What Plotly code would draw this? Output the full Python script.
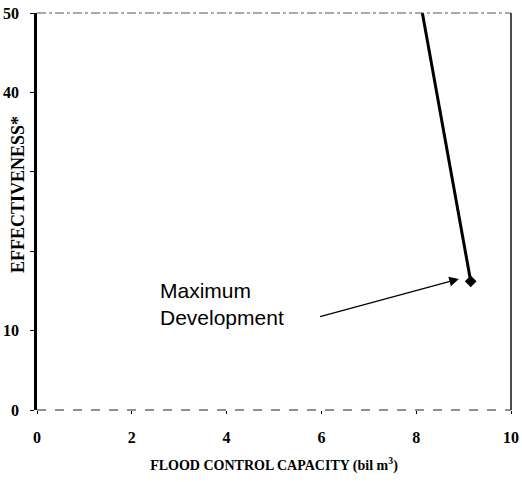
import plotly.graph_objects as go

# Data
capacity = [8.1, 9.15]          # bil m^3
effectiveness = [51.0, 16.2]
max_dev_x = [9.15]
max_dev_y = [16.2]
x_ticks = [0, 2, 4, 6, 8, 10]
x_ticktext = ["<b>0</b>", "<b>2</b>", "<b>4</b>", "<b>6</b>", "<b>8</b>", "<b>10</b>"]
y_ticks = [0, 10, 40, 50]
y_ticktext = ["<b>0</b>", "<b>10</b>", "<b>40</b>", "<b>50</b>"]
y_unlabeled_ticks = [20, 30]

serif = "Liberation Serif"

fig = go.Figure()
fig.add_trace(go.Scatter(x=capacity, y=effectiveness, mode="lines",
                         line=dict(color="black", width=3), showlegend=False))
fig.add_trace(go.Scatter(x=max_dev_x, y=max_dev_y, mode="markers",
                         marker=dict(symbol="diamond", size=9, color="black"),
                         showlegend=False))

# frame lines
fig.add_shape(type="line", xref="paper", yref="paper", x0=0, x1=1, y0=1, y1=1,
              line=dict(color="#555", width=1, dash="dashdot"))
fig.add_shape(type="line", xref="paper", yref="paper", x0=0, x1=1, y0=0, y1=0,
              line=dict(color="#222", width=1, dash="dash"))
fig.add_shape(type="line", xref="paper", yref="paper", x0=1, x1=1, y0=0, y1=1,
              line=dict(color="#111", width=1.5))

# annotation arrow
fig.add_annotation(x=8.9, y=16.5, ax=5.94, ay=11.7, xref="x", yref="y",
                   axref="x", ayref="y", text="", showarrow=True,
                   arrowhead=2, arrowsize=1.6, arrowwidth=1.2, arrowcolor="black")
fig.add_annotation(x=2.55, y=13.3, xref="x", yref="y", text="Maximum<br>Development",
                   showarrow=False, xanchor="left", yanchor="middle", align="left",
                   font=dict(family="Liberation Sans", size=21, color="black"))

plot_w = 522 - 37 - 11
plot_h = 482 - 13 - 72

# y title as annotation (pixel-positioned)
fig.add_annotation(x=(18 - 37) / plot_w, y=(482 - 72 - 195) / plot_h,
                   xref="paper", yref="paper",
                   text="<b>EFFECTIVENESS*</b>", textangle=-90, showarrow=False,
                   font=dict(family=serif, size=18, color="black"),
                   xanchor="center", yanchor="middle")

fig.update_layout(
    width=522, height=482,
    margin=dict(l=37, r=11, t=13, b=72, autoexpand=False),
    paper_bgcolor="white", plot_bgcolor="white",
    xaxis=dict(range=[0, 10], tickvals=x_ticks, ticktext=x_ticktext, showgrid=False,
               zeroline=False, showline=False, ticks="outside", ticklen=3,
               tickcolor="black", automargin=False, ticklabelstandoff=10,
               ticklabeloverflow="allow",
               tickfont=dict(family=serif, size=16, color="black"),
               title=dict(text="<b>FLOOD CONTROL CAPACITY (bil m<sup>3</sup>)</b>",
                          font=dict(family=serif, size=14, color="black"), standoff=14)),
    yaxis=dict(range=[0, 50], tickvals=y_ticks, ticktext=y_ticktext, showgrid=False,
               zeroline=False, showline=True, linecolor="black", linewidth=2.5,
               ticks="outside", ticklen=4, tickcolor="black", automargin=False,
               ticklabelstandoff=8, ticklabeloverflow="allow",
               minor=dict(tickvals=y_unlabeled_ticks, ticks="outside", ticklen=4,
                          tickcolor="black", showgrid=False),
               tickfont=dict(family=serif, size=16, color="black")),
)

fig.write_html("out.html", config={"displayModeBar": False},
               post_script="document.body.style.margin='0';")
